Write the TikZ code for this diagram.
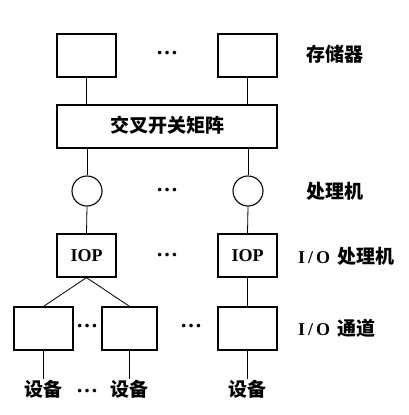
\documentclass[tikz,border=0pt]{standalone}
\usepackage{fontspec}
\setmainfont{Liberation Serif}
\newfontfamily\cjk{Noto Sans CJK SC}
\begin{document}
\begin{tikzpicture}[x=1pt,y=-1pt,
  box/.style={draw,line width=1.2pt,minimum height=43pt,inner sep=0pt},
  wbox/.style={box,minimum width=59pt},
  proc/.style={draw,line width=1.1pt,circle,minimum size=30pt,inner sep=0pt},
  conn/.style={line width=0.8pt},
  lbl/.style={font=\cjk\bfseries\fontsize{19}{19}\selectfont,inner sep=1pt},
  lat/.style={font=\bfseries\fontsize{18}{18}\selectfont,inner sep=1pt},
  dots/.style={font=\bfseries\fontsize{22}{22}\selectfont,inner sep=0pt}]
\useasboundingbox (0,0) rectangle (409,415);
% memories
\node[wbox] (m1) at (86.5,55.5) {};
\node[wbox] (m2) at (247.5,55.5) {};
\node[dots] (dm) at (167,53.5) {…};
\node[lbl] (lm) at (335,54) {存储器};
% crossbar
\node[box,minimum width=220pt] (xb) at (167,126.5) {};
\node[lbl] (xt) at (167,125) {交叉开关矩阵};
% processors
\node[proc] (c1) at (87,191) {};
\node[proc] (c2) at (248,191) {};
\node[dots] (dc) at (167,190) {…};
\node[lbl] (lc) at (335,191) {处理机};
% IOPs
\node[wbox,lat] (i1) at (86.5,255.5) {IOP};
\node[wbox,lat] (i2) at (247.5,255.5) {IOP};
\node[dots] (di) at (167,255) {…};
\node[anchor=west,inner sep=0pt] (li) at (298,256) {\bfseries\fontsize{18}{18}\selectfont I\,/\,O\, {\cjk\fontsize{19}{19}\selectfont 处理机}};
% channels
\node[wbox] (h1) at (43.5,328.5) {};
\node[box,minimum width=55pt] (h2) at (129.5,328.5) {};
\node[wbox] (h3) at (247.5,328.5) {};
\node[dots] (dh1) at (87,326) {…};
\node[dots] (dh2) at (191,326) {…};
\node[anchor=west,inner sep=0pt] (lh) at (298,328) {\bfseries\fontsize{18}{18}\selectfont I\,/\,O\, {\cjk\fontsize{19}{19}\selectfont 通道}};
% devices
\node[lbl,anchor=north] (e1) at (43.5,379) {设备};
\node[lbl,anchor=north] (e2) at (129.5,379) {设备};
\node[lbl,anchor=north] (e3) at (247.5,379) {设备};
\node[dots] (de) at (87,391) {…};
% connectors
\draw[conn] (m1.south) -- (m1.south |- xb.north);
\draw[conn] (m2.south) -- (m2.south |- xb.north);
\draw[conn] (c1.north |- xb.south) -- (c1.north);
\draw[conn] (c2.north |- xb.south) -- (c2.north);
\draw[conn] (c1.south) -- (i1.north);
\draw[conn] (c2.south) -- (i2.north);
\draw[conn] (i1.south) -- (h1.north);
\draw[conn] (i1.south) -- (h2.north);
\draw[conn] (i2.south) -- (h3.north);
\draw[conn] (h1.south) -- (e1.north);
\draw[conn] (h2.south) -- (e2.north);
\draw[conn] (h3.south) -- (e3.north);
\end{tikzpicture}
\end{document}
